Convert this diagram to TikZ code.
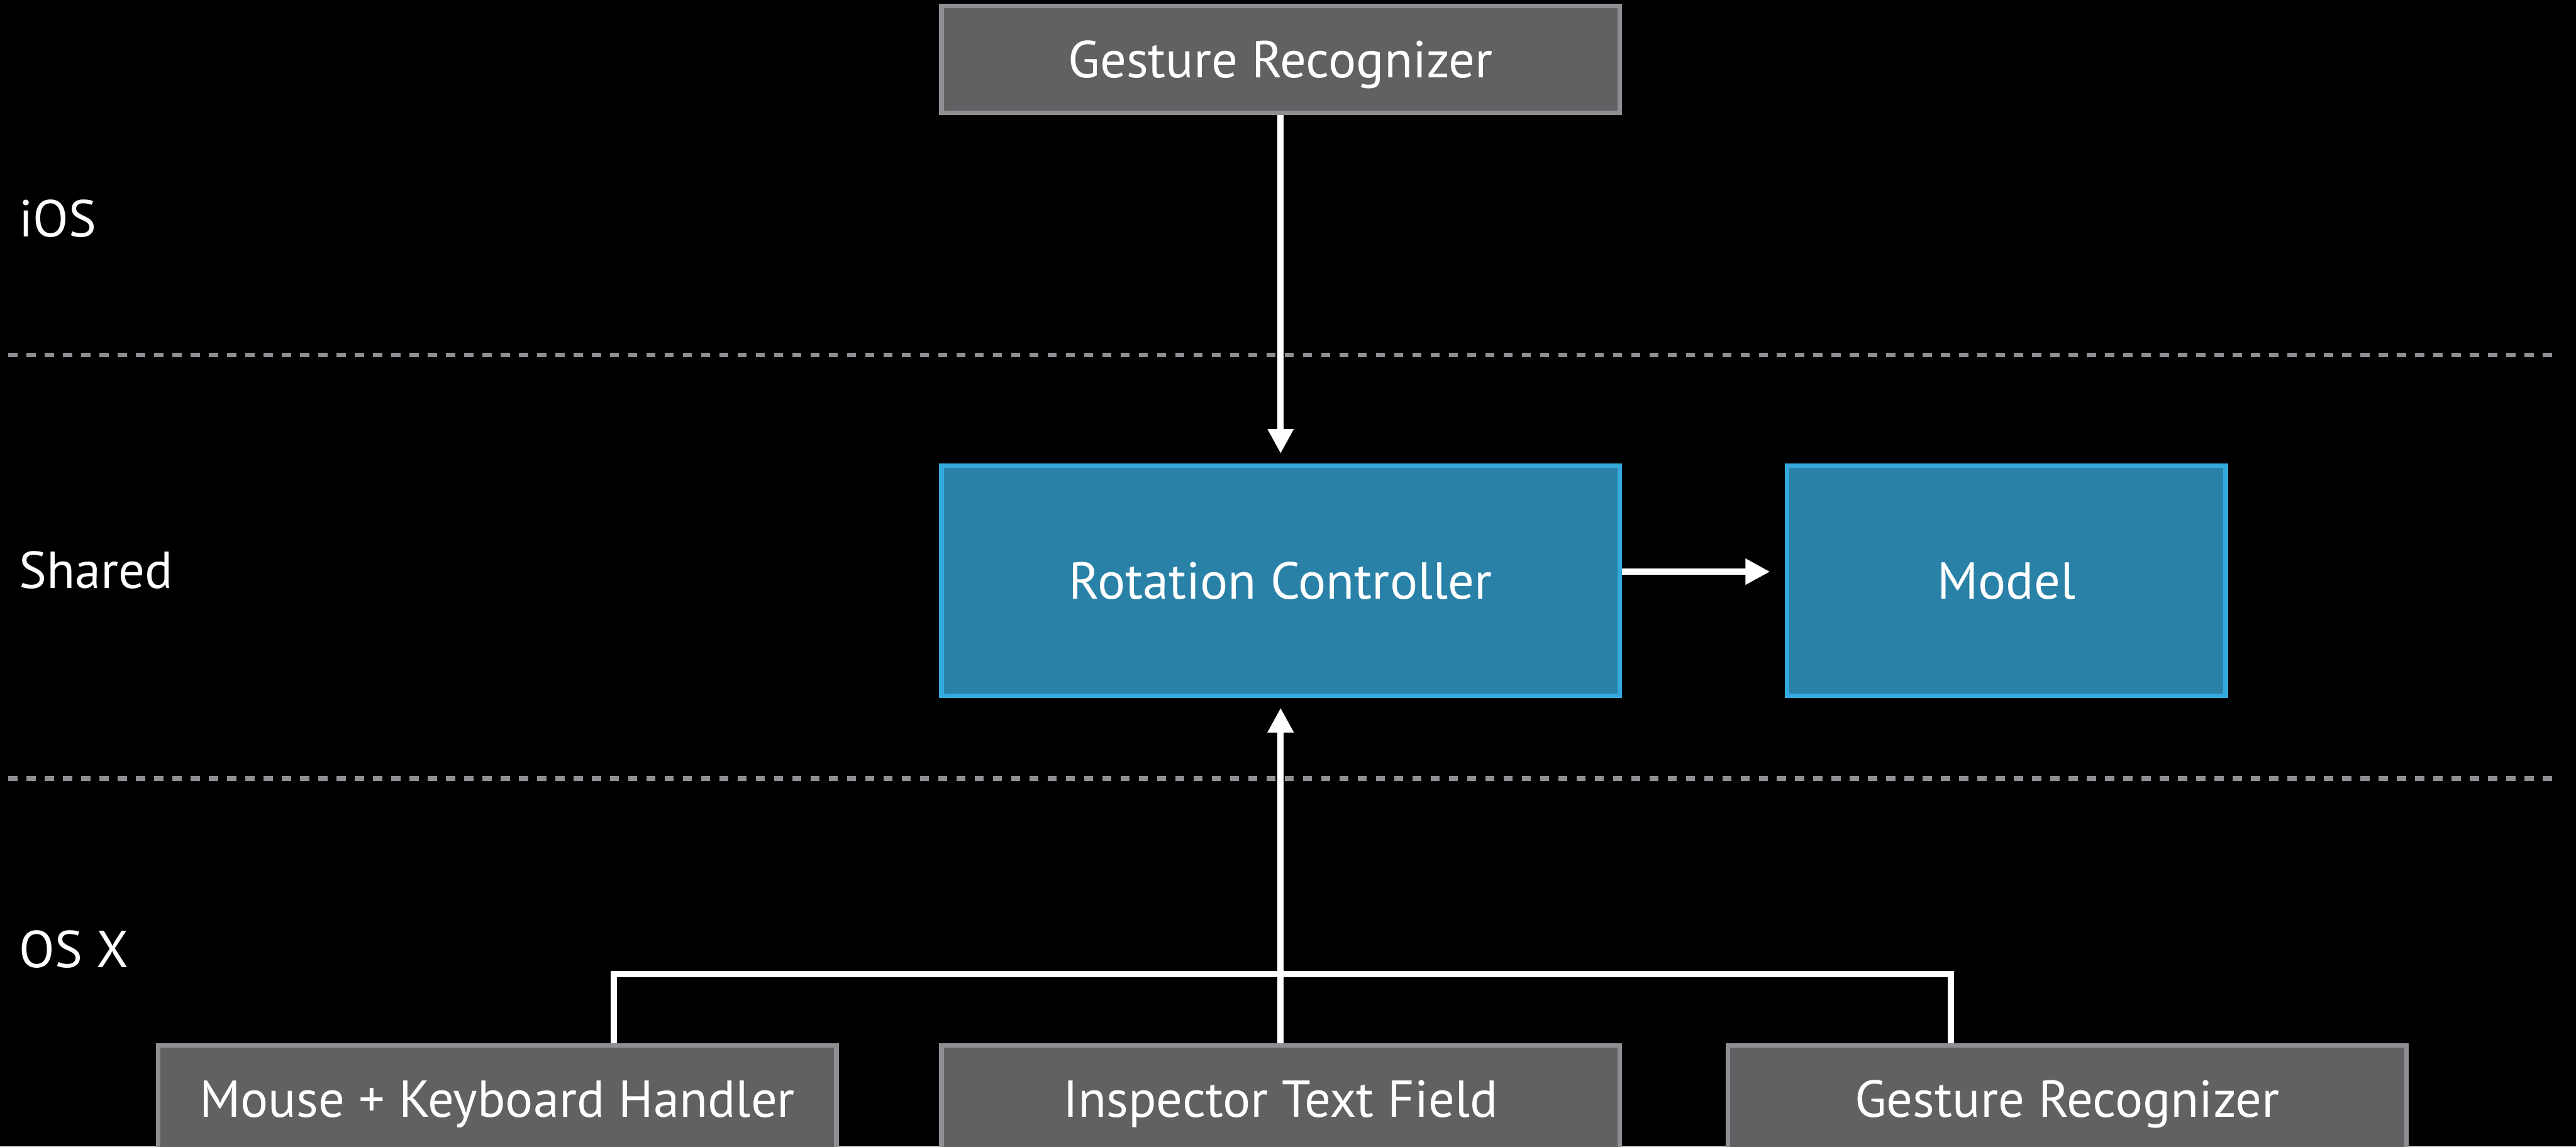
\documentclass[tikz,border=0pt]{standalone}
\usepackage{fontspec}
\setmainfont{PT Sans}
\usepackage{xcolor}
\usetikzlibrary{arrows.meta,positioning}

\definecolor{boxgray}{RGB}{97,97,99}
\definecolor{edgegray}{RGB}{142,142,147}
\definecolor{boxblue}{RGB}{41,129,167}
\definecolor{edgeblue}{RGB}{53,168,221}

\begin{document}
\begin{tikzpicture}[
    node distance=2.1cm and 0.61cm,
    graybox/.style={rectangle, draw=edgegray, fill=boxgray, line width=0.8pt, minimum width=4.13cm, minimum height=0.65cm, inner sep=0pt, text=white, font=\fontsize{9}{10}\selectfont, text height=6.3pt, text depth=0pt},
    bluebox/.style={rectangle, draw=edgeblue, fill=boxblue, line width=0.8pt, minimum width=4.13cm, minimum height=1.40cm, inner sep=0pt, text=white, font=\fontsize{9}{10}\selectfont, text height=6.3pt, text depth=0pt},
    arrow/.style={-{Triangle[length=0.15cm, width=0.15cm]}, line width=1.1pt, draw=white},
    link/.style={line width=1.1pt, draw=white},
    lane/.style={draw=edgegray, line width=0.82pt, dash pattern=on 0.056cm off 0.055cm},
    lanelabel/.style={anchor=base west, inner sep=0pt, text=white, font=\fontsize{9}{11}\selectfont}
]
    \fill[black] (0,0) rectangle (15.68,-6.98);
    \useasboundingbox (0,0) rectangle (15.68,-6.98);

    % lanes
    \draw[lane] (0.05,-2.16) -- (15.58,-2.16);
    \draw[lane] (0.05,-4.74) -- (15.58,-4.74);
    \node[lanelabel] (ios) at (0.11,-1.44) {iOS};
    \node[lanelabel] (shared) at (0.11,-3.58) {Shared};
    \node[lanelabel] (osx) at (0.11,-5.89) {OS X};

    \node[bluebox] (rc) at (7.795,-3.535) {Rotation Controller};
    \node[bluebox, minimum width=2.67cm, right=0.99cm of rc] (model) {Model};
    \node[graybox, above=2.12cm of rc] (gr1) {Gesture Recognizer};
    \node[graybox, below=2.10cm of rc] (itf) {Inspector Text Field};
    \node[graybox, left=of itf] (mkh) {Mouse + Keyboard Handler};
    \node[graybox, right=0.63cm of itf] (gr2) {Gesture Recognizer};
    \coordinate (join) at (7.795,-5.93);

    \draw[arrow, shorten >=0.06cm] (gr1) -- (rc);
    \draw[arrow, shorten >=0.09cm] ([yshift=0.055cm]rc.east) -- ([yshift=0.055cm]model.west);
    \draw[arrow, shorten >=0.06cm] (itf) -- (rc);
    \draw[link] ([xshift=0.71cm]mkh.north) |- (join) -| ([xshift=-0.71cm]gr2.north);
\end{tikzpicture}
\end{document}
